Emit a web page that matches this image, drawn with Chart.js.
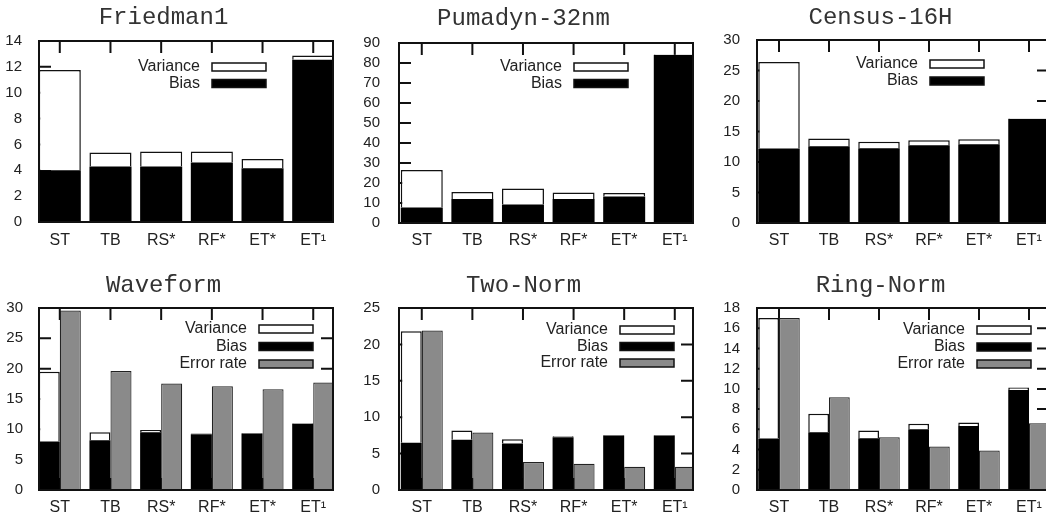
<!DOCTYPE html>
<html><head><meta charset="utf-8">
<script src="https://cdn.jsdelivr.net/npm/chart.js@4.4.1/dist/chart.umd.min.js"></script>
<style>
html,body{margin:0;padding:0;background:#fff;overflow:hidden;width:1046px;height:519px;position:relative;}
canvas{position:absolute;}
</style></head><body>
<canvas id="p1"></canvas><canvas id="p2"></canvas><canvas id="p3"></canvas>
<canvas id="p4"></canvas><canvas id="p5"></canvas><canvas id="p6"></canvas>
<script>
// ---- data ----
const categories = ['ST', 'TB', 'RS*', 'RF*', 'ET*', 'ET\u00B9'];

const friedmanBias     = [4.0, 4.3, 4.3, 4.6, 4.15, 12.55];
const friedmanVariance = [7.75, 1.07, 1.15, 0.85, 0.73, 0.32];
const friedmanTicks    = [0, 2, 4, 6, 8, 10, 12, 14];

const pumadynBias     = [7.7, 12.0, 9.2, 12.0, 13.2, 84.0];
const pumadynVariance = [18.8, 3.5, 8.0, 3.3, 1.8, 0.3];
const pumadynTicks    = [0, 10, 20, 30, 40, 50, 60, 70, 80, 90];

const censusBias     = [12.2, 12.6, 12.25, 12.75, 12.9, 17.05];
const censusVariance = [14.2, 1.25, 1.05, 0.82, 0.84, 0.1];
const censusTicks    = [0, 5, 10, 15, 20, 25, 30];

const waveformBias     = [8.0, 8.2, 9.5, 9.2, 9.3, 10.9];
const waveformVariance = [11.5, 1.3, 0.4, 0.1, 0.1, 0.1];
const waveformError    = [29.6, 19.6, 17.55, 17.1, 16.6, 17.7];
const waveformTicks    = [0, 5, 10, 15, 20, 25, 30];

const twoNormBias     = [6.5, 6.9, 6.4, 7.25, 7.5, 7.5];
const twoNormVariance = [15.3, 1.27, 0.57, 0.15, 0.05, 0.05];
const twoNormError    = [21.9, 7.9, 3.85, 3.6, 3.2, 3.2];
const twoNormTicks    = [0, 5, 10, 15, 20, 25];

const ringNormBias     = [5.1, 5.7, 5.12, 6.0, 6.34, 9.9];
const ringNormVariance = [11.9, 1.83, 0.76, 0.54, 0.33, 0.24];
const ringNormError    = [17.0, 9.18, 5.22, 4.3, 3.9, 6.6];
const ringNormTicks    = [0, 2, 4, 6, 8, 10, 12, 14, 16, 18];

// ---- plugins ----
const TICK_LEN = 12;
const frameTicks = {
  id: 'frameTicks',
  beforeDatasetsDraw(chart) {
    const {ctx, chartArea: a, scales: {x, y}} = chart;
    ctx.save();
    ctx.strokeStyle = '#111';
    ctx.lineWidth = 2;
    ctx.beginPath();
    x.ticks.forEach(t => {
      const px = x.getPixelForValue(t.value);
      ctx.moveTo(px, a.top); ctx.lineTo(px, a.top + TICK_LEN);
      ctx.moveTo(px, a.bottom); ctx.lineTo(px, a.bottom - TICK_LEN);
    });
    y.ticks.forEach(t => {
      const py = y.getPixelForValue(t.value);
      ctx.moveTo(a.left, py); ctx.lineTo(a.left + TICK_LEN, py);
      ctx.moveTo(a.right, py); ctx.lineTo(a.right - TICK_LEN, py);
    });
    ctx.stroke();
    ctx.restore();
  },
  afterDatasetsDraw(chart) {
    const {ctx, chartArea: a} = chart;
    ctx.save();
    ctx.strokeStyle = '#111';
    ctx.lineWidth = 2;
    ctx.strokeRect(a.left, a.top, a.right - a.left, a.bottom - a.top);
    ctx.restore();
  }
};

const boxLegend = {
  id: 'boxLegend',
  afterDraw(chart, args, opts) {
    const {ctx, chartArea: a} = chart;
    const right = a.right - opts.right;
    const left = right - opts.swatchW;
    opts.order.forEach((di, k) => {
      const ds = chart.data.datasets[di];
      if (!ds) return;
      const yc = a.top + opts.top + k * opts.gap;
      ctx.save();
      ctx.fillStyle = ds.backgroundColor;
      ctx.fillRect(left, yc - opts.swatchH / 2, opts.swatchW, opts.swatchH);
      ctx.strokeStyle = '#111';
      ctx.lineWidth = 1.5;
      ctx.strokeRect(left, yc - opts.swatchH / 2, opts.swatchW, opts.swatchH);
      ctx.font = '16px "Liberation Sans", Arial, sans-serif';
      ctx.textAlign = 'right';
      ctx.textBaseline = 'middle';
      ctx.fillStyle = '#222';
      ctx.fillText(ds.label, left - opts.textGap, yc);
      ctx.restore();
    });
  }
};

// ---- builder ----
function makePanel(p) {
  const cv = document.getElementById(p.id);
  const plotW = p.R - p.L;
  const cw = plotW + 90;
  cv.width = cw; cv.height = p.h;
  cv.style.left = (p.L - 45) + 'px';
  cv.style.top = p.rowTop + 'px';
  cv.style.width = cw + 'px'; cv.style.height = p.h + 'px';

  const pts = arr => arr.map((v, i) => ({x: i, y: v}));
  const datasets = [
    {label: 'Bias', data: pts(p.bias), backgroundColor: '#000000', borderColor: '#000000', borderWidth: 0, stack: 'bv', clip: 0},
    {label: 'Variance', data: pts(p.variance), backgroundColor: '#ffffff', borderColor: '#111111', borderWidth: 1.5, stack: 'bv', clip: 0}
  ];
  if (p.error) {
    datasets.push({label: 'Error rate', data: pts(p.error), backgroundColor: '#8a8a8a', borderColor: '#222222', borderWidth: 1.2, stack: 'err', clip: 0});
  }
  const tLocal = p.T - p.rowTop;
  const bLocal = p.B - p.rowTop;

  new Chart(cv, {
    type: 'bar',
    data: {datasets},
    plugins: [frameTicks, boxLegend],
    options: {
      responsive: false,
      animation: false,
      devicePixelRatio: 1,
      layout: {padding: {left: 0, right: 45, top: 0, bottom: 0}},
      datasets: {bar: {categoryPercentage: 0.83, barPercentage: 1.0}},
      plugins: {
        legend: {display: false},
        tooltip: {enabled: false},
        title: {
          display: true,
          text: p.title,
          color: '#333',
          font: {family: '"Liberation Mono", "DejaVu Sans Mono", monospace', size: 24, weight: 'normal', lineHeight: 1},
          padding: {top: p.titleTop, bottom: tLocal - p.titleTop - 24}
        },
        boxLegend: {
          order: [1, 0, 2],
          right: p.legRight, top: p.legTop, gap: p.legGap,
          swatchW: 54, swatchH: 8, textGap: 12
        }
      },
      scales: {
        x: {
          type: 'linear', min: p.xmin, max: p.xmax, offset: false,
          grid: {display: false}, border: {display: false},
          afterBuildTicks: s => { s.ticks = categories.map((c, i) => ({value: i})); },
          ticks: {
            callback: v => categories[v],
            autoSkip: false, maxRotation: 0,
            padding: p.xPad,
            color: '#222',
            font: {family: '"Liberation Sans", Arial, sans-serif', size: 16}
          },
          afterFit: s => { s.height = p.h - bLocal; }
        },
        y: {
          type: 'linear', min: 0, max: p.yTicks[p.yTicks.length - 1], stacked: true,
          grid: {display: false}, border: {display: false},
          afterBuildTicks: s => { s.ticks = p.yTicks.map(v => ({value: v})); },
          ticks: {
            autoSkip: false,
            padding: p.yPad,
            color: '#222',
            font: {family: '"Liberation Sans", Arial, sans-serif', size: 15}
          },
          afterFit: s => { s.width = 45; }
        }
      }
    }
  });
}

makePanel({id: 'p1', title: 'Friedman1', rowTop: 0, h: 260, L: 39, R: 333, T: 41, B: 222,
  xmin: -0.41, xmax: 5.39, yTicks: friedmanTicks, yPad: 9, xPad: 1, titleTop: 6,
  bias: friedmanBias, variance: friedmanVariance, legRight: 67, legTop: 26, legGap: 16.5});
makePanel({id: 'p2', title: 'Pumadyn-32nm', rowTop: 0, h: 260, L: 399, R: 693, T: 43, B: 223,
  xmin: -0.45, xmax: 5.36, yTicks: pumadynTicks, yPad: 11, xPad: 0, titleTop: 6.5,
  bias: pumadynBias, variance: pumadynVariance, legRight: 65, legTop: 24, legGap: 16.5});
makePanel({id: 'p3', title: 'Census-16H', rowTop: 0, h: 260, L: 757, R: 1049, T: 40, B: 223,
  xmin: -0.44, xmax: 5.4, yTicks: censusTicks, yPad: 9, xPad: 0, titleTop: 6,
  bias: censusBias, variance: censusVariance, legRight: 65, legTop: 24, legGap: 17});
makePanel({id: 'p4', title: 'Waveform', rowTop: 260, h: 259, L: 39, R: 333, T: 308, B: 490,
  xmin: -0.41, xmax: 5.39, yTicks: waveformTicks, yPad: 8, xPad: 0, titleTop: 13.5,
  bias: waveformBias, variance: waveformVariance, error: waveformError, legRight: 20, legTop: 21, legGap: 17.5});
makePanel({id: 'p5', title: 'Two-Norm', rowTop: 260, h: 259, L: 399, R: 693, T: 308, B: 490,
  xmin: -0.45, xmax: 5.36, yTicks: twoNormTicks, yPad: 11, xPad: 0, titleTop: 13.5,
  bias: twoNormBias, variance: twoNormVariance, error: twoNormError, legRight: 19, legTop: 22, legGap: 16.5});
makePanel({id: 'p6', title: 'Ring-Norm', rowTop: 260, h: 259, L: 757, R: 1049, T: 308, B: 490,
  xmin: -0.44, xmax: 5.4, yTicks: ringNormTicks, yPad: 9, xPad: 0, titleTop: 13.5,
  bias: ringNormBias, variance: ringNormVariance, error: ringNormError, legRight: 18, legTop: 22, legGap: 17});
</script>
</body></html>
